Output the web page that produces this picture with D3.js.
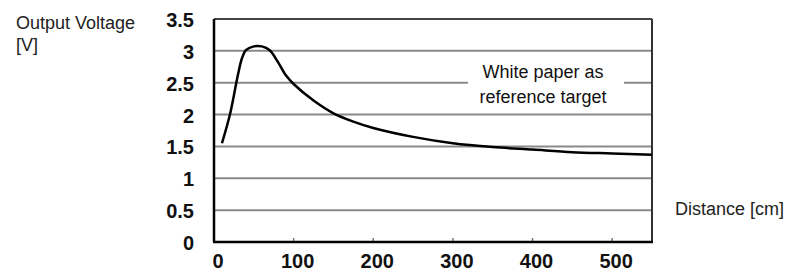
<!DOCTYPE html>
<html>
<head>
<meta charset="utf-8">
<script src="https://cdn.jsdelivr.net/npm/d3@7"></script>
<style>
  body { margin: 0; background: #fff; }
  svg { display: block; font-family: Arial, "Liberation Sans", sans-serif; }
</style>
</head>
<body>
<svg width="792" height="273"></svg>
<script>
// values
let distance = [10, 20, 30, 35, 40, 50, 60, 70, 80, 90, 100, 125, 150, 175, 200, 250, 300, 350, 400, 450, 500, 550]
let voltage = [1.55, 2.0, 2.62, 2.88, 3.01, 3.07, 3.07, 3.01, 2.83, 2.62, 2.48, 2.22, 2.02, 1.89, 1.79, 1.65, 1.55, 1.49, 1.45, 1.41, 1.39, 1.37]
let xTicks = [0, 100, 200, 300, 400, 500]
let yTicks = [0, 0.5, 1, 1.5, 2, 2.5, 3, 3.5]

let svg = d3.select("svg")

let plotLeft = 214, plotRight = 652, plotTop = 19, plotBottom = 242

let xScale = d3.scaleLinear().domain([0, 550]).range([plotLeft, plotRight])
let yScale = d3.scaleLinear().domain([0, 3.5]).range([plotBottom, plotTop])

// horizontal grid
svg.append("g")
   .selectAll("line")
   .data(yTicks.filter(d => d > 0 && d < 3.5))
   .enter()
   .append("line")
   .attr("x1", plotLeft)
   .attr("x2", plotRight)
   .attr("y1", d => yScale(d))
   .attr("y2", d => yScale(d))
   .attr("stroke", "#8a8a8a")
   .attr("stroke-width", 2)

// frame top / right
svg.append("line")
   .attr("x1", plotLeft).attr("x2", plotRight)
   .attr("y1", plotTop).attr("y2", plotTop)
   .attr("stroke", "#444").attr("stroke-width", 2)
svg.append("line")
   .attr("x1", plotRight).attr("x2", plotRight)
   .attr("y1", plotTop).attr("y2", plotBottom)
   .attr("stroke", "#333").attr("stroke-width", 2)

// small tick marks on the bottom axis
svg.append("g")
   .selectAll("line")
   .data(xTicks.filter(d => d > 0))
   .enter()
   .append("line")
   .attr("x1", d => xScale(d))
   .attr("x2", d => xScale(d))
   .attr("y1", plotBottom)
   .attr("y2", plotBottom - 4)
   .attr("stroke", "#777")
   .attr("stroke-width", 1.5)

// label box (covers the grid)
svg.append("rect")
   .attr("x", 468).attr("y", 56)
   .attr("width", 156).attr("height", 56)
   .attr("fill", "#fff")
svg.append("text")
   .attr("x", 543).attr("y", 78)
   .attr("text-anchor", "middle")
   .style("font-size", "18px")
   .attr("fill", "#111")
   .text("White paper as")
svg.append("text")
   .attr("x", 543).attr("y", 103)
   .attr("text-anchor", "middle")
   .style("font-size", "18px")
   .attr("fill", "#111")
   .text("reference target")

// curve
let line = d3.line()
             .x((d, i) => xScale(distance[i]))
             .y(d => yScale(d))
             .curve(d3.curveCatmullRom.alpha(0.5))
svg.append("path")
   .datum(voltage)
   .attr("d", line)
   .attr("fill", "none")
   .attr("stroke", "#000")
   .attr("stroke-width", 2.5)

// left and bottom axis lines
svg.append("line")
   .attr("x1", plotLeft).attr("x2", plotLeft)
   .attr("y1", plotTop).attr("y2", plotBottom)
   .attr("stroke", "#000").attr("stroke-width", 2.5)
svg.append("line")
   .attr("x1", plotLeft - 1).attr("x2", plotRight + 1)
   .attr("y1", plotBottom).attr("y2", plotBottom)
   .attr("stroke", "#000").attr("stroke-width", 2.5)

// tick labels
svg.append("g")
   .selectAll("text")
   .data(yTicks)
   .enter()
   .append("text")
   .attr("x", 194)
   .attr("y", d => yScale(d) + 8)
   .attr("text-anchor", "end")
   .style("font-size", "20px")
   .style("font-weight", "bold")
   .attr("fill", "#111")
   .text(d => d)

svg.append("g")
   .selectAll("text")
   .data(xTicks)
   .enter()
   .append("text")
   .attr("x", d => xScale(d) + 4)
   .attr("y", 268)
   .attr("text-anchor", "middle")
   .style("font-size", "20px")
   .style("font-weight", "bold")
   .attr("fill", "#111")
   .text(d => d)

// axis titles
svg.append("text")
   .attr("x", 16).attr("y", 29)
   .style("font-size", "18px")
   .attr("fill", "#222")
   .text("Output Voltage")
svg.append("text")
   .attr("x", 16).attr("y", 51)
   .style("font-size", "18px")
   .attr("fill", "#222")
   .text("[V]")
svg.append("text")
   .attr("x", 675).attr("y", 215)
   .style("font-size", "18px")
   .attr("fill", "#222")
   .text("Distance [cm]")
</script>
</body>
</html>
